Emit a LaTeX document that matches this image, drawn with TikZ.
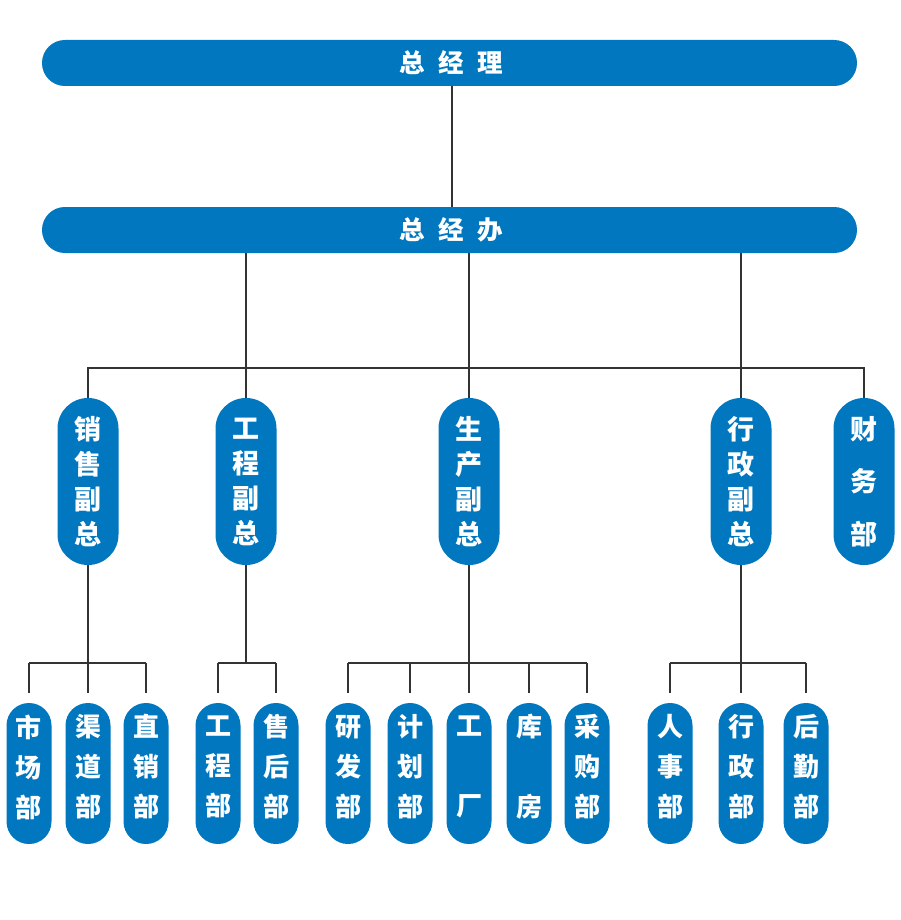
\documentclass[tikz,border=0pt]{standalone}
\usepackage{fontspec}
\newfontfamily\cjk{Noto Sans CJK SC}
\definecolor{boxblue}{HTML}{0077BE}
\definecolor{linegray}{HTML}{333333}
\tikzset{
  bar/.style={fill=boxblue, draw=none, minimum width=815pt, minimum height=46pt, rounded corners=22.9pt, inner sep=0pt, text=white, font=\cjk\bfseries\fontsize{25.5}{30}\selectfont},
  vpbox/.style={fill=boxblue, draw=none, minimum width=61pt, minimum height=167pt, rounded corners=30.4pt, inner sep=0pt, text=white, align=center, font=\cjk\bfseries\fontsize{27}{35}\selectfont},
  finbox/.style={vpbox, font=\cjk\bfseries\fontsize{27}{52.5}\selectfont},
  leafbox/.style={fill=boxblue, draw=none, minimum width=45pt, minimum height=141pt, rounded corners=22.4pt, inner sep=0pt},
  leaftext/.style={inner sep=0pt, text=white, align=center, font=\cjk\bfseries\fontsize{26}{40}\selectfont},
  conn/.style={draw=linegray, line width=1.1pt},
  tick/.style={conn, shorten >=10pt},
}
\newcommand\leafnode[3]{%
  \node[leafbox] (#1) at (#2,773.5) {};
  \node[leaftext] (#1t) at ([yshift=6.5pt]#1.center) {#3};
}
\begin{document}
\begin{tikzpicture}[x=1pt,y=-1pt]
\useasboundingbox (0,0) rectangle (900,920);
% top levels
\node[bar] (zjl) at (449.5,63) {\hspace{4pt}总\hspace{13.5pt}经\hspace{13.5pt}理};
\node[bar] (zjb) at (449.5,230) {\hspace{4pt}总\hspace{13.5pt}经\hspace{13.5pt}办};
% VPs
\node[vpbox] (vp1) at (88,481.5) {销\\售\\副\\总};
\node[vpbox] (vp2) at (246,481.5) {工\\程\\副\\总};
\node[vpbox] (vp3) at (469,481.5) {生\\产\\副\\总};
\node[vpbox] (vp4) at (741,481.5) {行\\政\\副\\总};
\node[finbox] (vp5) at (864,481.5) {财\\务\\部};
% leaves
\leafnode{a1}{29}{市\\场\\部}
\leafnode{a2}{88}{渠\\道\\部}
\leafnode{a3}{146}{直\\销\\部}
\leafnode{b1}{218}{工\\程\\部}
\leafnode{b2}{276}{售\\后\\部}
\leafnode{c1}{348}{研\\发\\部}
\leafnode{c2}{410}{计\\划\\部}
\leafnode{c3}{469}{工\\[40pt]厂}
\leafnode{c4}{529}{库\\[40pt]房}
\leafnode{c5}{587}{采\\购\\部}
\leafnode{d1}{670}{人\\事\\部}
\leafnode{d2}{741}{行\\政\\部}
\leafnode{d3}{806}{后\\勤\\部}
% bus coordinates
\coordinate (bus) at (0,368);
\coordinate (g) at (0,663);
\coordinate (top) at (452,0);
% connectors
\draw[conn] (zjl.south -| top) -- (zjb.north -| top);
\draw[conn] (zjb.south -| vp2) -- (vp2.north);
\draw[conn] (zjb.south -| vp3) -- (vp3.north);
\draw[conn] (zjb.south -| vp4) -- (vp4.north);
\draw[conn] (vp1.north) -- (vp1.north |- bus) -- (vp5.north |- bus) -- (vp5.north);
% groups
\foreach \vp/\first/\last/\kids in {vp1/a1/a3/{a1,a2,a3}, vp2/b1/b2/{b1,b2}, vp3/c1/c5/{c1,c2,c3,c4,c5}, vp4/d1/d3/{d1,d2,d3}}{
  \draw[conn] (\vp.south) -- (\vp.south |- g);
  \draw[conn] (\first.north |- g) -- (\last.north |- g);
  \foreach \k in \kids { \draw[tick] (\k.north |- g) -- (\k.north); }
}
\end{tikzpicture}
\end{document}
